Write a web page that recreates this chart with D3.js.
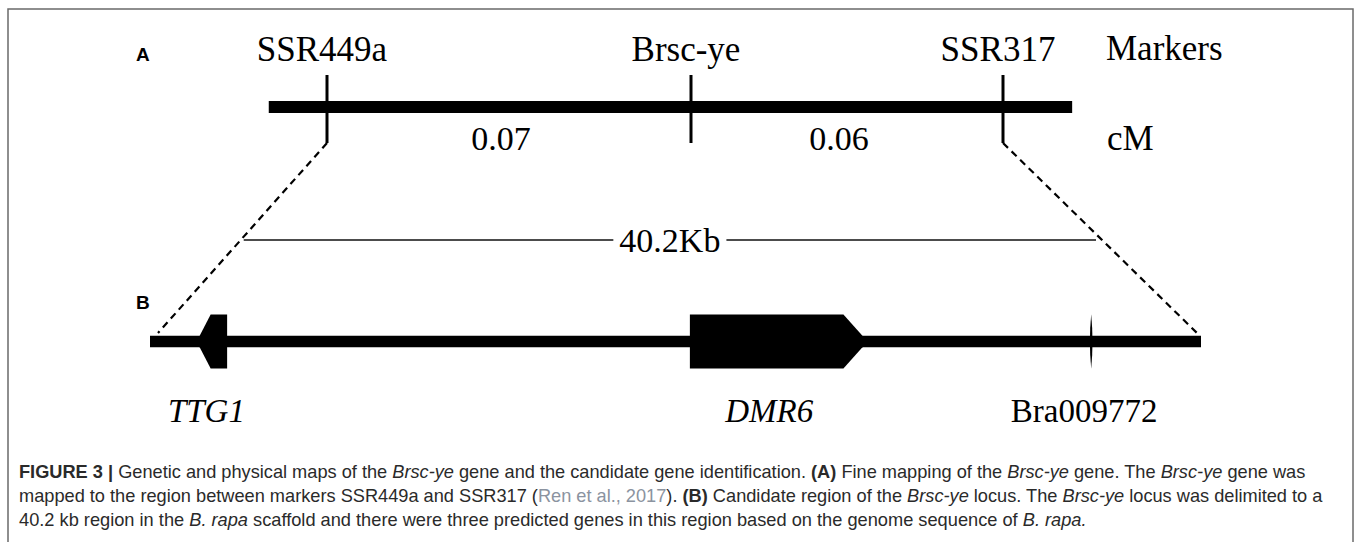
<!DOCTYPE html>
<html>
<head>
<meta charset="utf-8">
<script src="https://cdn.jsdelivr.net/npm/d3@7"></script>
<style>
  body { margin: 0; background: #fff; }
  svg { display: block; }
</style>
</head>
<body>
<svg width="1357" height="542"></svg>
<script>
// Markers of the fine map (cM, cumulative from SSR449a)
var markers = ["SSR449a", "Brsc-ye", "SSR317"];
var markerCM = [0, 0.07, 0.13];
var intervals = [0.07, 0.06];
var linkageExtent = [-0.0112, 0.1433]; // how far the black bar runs past the outer markers

// Physical region (kb)
var regionKb = 40.2;
var regionLabel = "40.2Kb";
var genes = ["TTG1", "DMR6", "Bra009772"];
var geneStart = [1.9, 20.65, 35.95];
var geneEnd = [2.95, 27.25, 36.05];
var geneStrand = [-1, 1, 0];   // -1 = reverse, 1 = forward, 0 = tiny/no direction
var geneItalic = [true, true, false];

var svg = d3.select("svg"),
    width = +svg.attr("width"),
    height = +svg.attr("height");

var serif = "'Liberation Serif', 'Times New Roman', serif";
var sans = "'Liberation Sans', Arial, sans-serif";

// frame (bottom edge is cut off in the original)
svg.append("rect")
    .attr("x", 8).attr("y", 9)
    .attr("width", 1345).attr("height", 560)
    .attr("fill", "none")
    .attr("stroke", "#6a6a6a")
    .attr("stroke-width", 1.5);

// ---------- A : genetic map ----------
var xcM = d3.scaleLinear().domain([0, 0.13]).range([327, 1003]);
var barY = 107;

svg.append("text")
    .attr("x", 136).attr("y", 61)
    .attr("font-family", sans).attr("font-weight", "bold").attr("font-size", 19)
    .text("A");

svg.append("line")
    .attr("x1", xcM(linkageExtent[0])).attr("x2", xcM(linkageExtent[1]))
    .attr("y1", barY).attr("y2", barY)
    .attr("stroke", "#000").attr("stroke-width", 12);

svg.append("g")
    .selectAll("line")
    .data(markerCM)
    .enter()
    .append("line")
    .attr("x1", function (d) { return xcM(d); })
    .attr("x2", function (d) { return xcM(d); })
    .attr("y1", 75).attr("y2", 143)
    .attr("stroke", "#000").attr("stroke-width", 3);

svg.append("g")
    .selectAll("text")
    .data(markers)
    .enter()
    .append("text")
    .attr("x", function (d, i) { return xcM(markerCM[i]) - 5; })
    .attr("y", 61)
    .attr("text-anchor", "middle")
    .attr("font-family", serif).attr("font-size", 35)
    .text(function (d) { return d; });

// distance labels between markers
svg.append("g")
    .selectAll("text")
    .data(intervals)
    .enter()
    .append("text")
    .attr("x", function (d, i) { return (xcM(markerCM[i]) + xcM(markerCM[i + 1])) / 2 - 8; })
    .attr("y", 150)
    .attr("text-anchor", "middle")
    .attr("font-family", serif).attr("font-size", 34)
    .text(function (d) { return d.toFixed(2); });

svg.append("text")
    .attr("x", 1106).attr("y", 60)
    .attr("font-family", serif).attr("font-size", 35)
    .text("Markers");
svg.append("text")
    .attr("x", 1107).attr("y", 150)
    .attr("font-family", serif).attr("font-size", 35)
    .text("cM");

// ---------- B : physical map ----------
var xKb = d3.scaleLinear().domain([0, regionKb]).range([150, 1201]);
var chrY = 341.5;
var geneH = 27; // half height of gene glyphs

svg.append("text")
    .attr("x", 136).attr("y", 309)
    .attr("font-family", sans).attr("font-weight", "bold").attr("font-size", 19)
    .text("B");

// dashed zoom lines
var zoomLines = [
    [[xcM(markerCM[0]), 143], [xKb(0) + 8, 333]],
    [[xcM(markerCM[2]), 143], [xKb(regionKb) - 4, 333]]
];
svg.append("g")
    .selectAll("line")
    .data(zoomLines)
    .enter()
    .append("line")
    .attr("x1", function (d) { return d[0][0]; })
    .attr("y1", function (d) { return d[0][1]; })
    .attr("x2", function (d) { return d[1][0]; })
    .attr("y2", function (d) { return d[1][1]; })
    .attr("stroke", "#000").attr("stroke-width", 2.2)
    .attr("stroke-dasharray", "7,5");

// 40.2Kb span line, ends where it meets the dashed lines
var spanY = 240;
function crossX(l) {
    var t = (spanY - l[0][1]) / (l[1][1] - l[0][1]);
    return l[0][0] + t * (l[1][0] - l[0][0]);
}
var spanL = crossX(zoomLines[0]) + 3,
    spanR = crossX(zoomLines[1]) - 6,
    spanMid = (spanL + spanR) / 2;

var spanText = svg.append("text")
    .attr("x", spanMid).attr("y", spanY + 12)
    .attr("text-anchor", "middle")
    .attr("font-family", serif).attr("font-size", 34)
    .text(regionLabel);
var tw = spanText.node().getComputedTextLength();
svg.append("line")
    .attr("x1", spanL).attr("x2", spanMid - tw / 2 - 6)
    .attr("y1", spanY).attr("y2", spanY)
    .attr("stroke", "#111").attr("stroke-width", 1.6);
svg.append("line")
    .attr("x1", spanMid + tw / 2 + 6).attr("x2", spanR)
    .attr("y1", spanY).attr("y2", spanY)
    .attr("stroke", "#111").attr("stroke-width", 1.6);

// chromosome segment
svg.append("line")
    .attr("x1", xKb(0)).attr("x2", xKb(regionKb))
    .attr("y1", chrY).attr("y2", chrY)
    .attr("stroke", "#000").attr("stroke-width", 11.5);

// gene glyphs
function genePath(i) {
    var a = xKb(geneStart[i]), b = xKb(geneEnd[i]);
    var top = chrY - geneH, bot = chrY + geneH;
    var halfBar = 5.8;
    if (geneStrand[i] === 0) {
        var m = (a + b) / 2, r = (b - a) / 2;
        return "M" + m + "," + top +
            "Q" + (m + r * 2) + "," + chrY + " " + m + "," + bot +
            "Q" + (m - r * 2) + "," + chrY + " " + m + "," + top + "Z";
    }
    var head = Math.min(19, (b - a) * 0.4);
    if (geneStrand[i] > 0) {
        return "M" + a + "," + top + "L" + (b - head) + "," + top +
            "L" + b + "," + (chrY - halfBar) + "L" + b + "," + (chrY + halfBar) +
            "L" + (b - head) + "," + bot + "L" + a + "," + bot + "Z";
    }
    return "M" + b + "," + top + "L" + (a + head) + "," + top +
        "L" + a + "," + (chrY - halfBar) + "L" + a + "," + (chrY + halfBar) +
        "L" + (a + head) + "," + bot + "L" + b + "," + bot + "Z";
}

svg.append("g")
    .selectAll("path")
    .data(genes)
    .enter()
    .append("path")
    .attr("d", function (d, i) { return genePath(i); })
    .attr("fill", "#000");

svg.append("g")
    .selectAll("text")
    .data(genes)
    .enter()
    .append("text")
    .attr("x", function (d, i) { return xKb((geneStart[i] + geneEnd[i]) / 2) - 7; })
    .attr("y", 422)
    .attr("text-anchor", "middle")
    .attr("font-family", serif).attr("font-size", 33)
    .attr("font-style", function (d, i) { return geneItalic[i] ? "italic" : "normal"; })
    .text(function (d) { return d; });

// ---------- caption ----------
// each line: list of [text, style]  (b = bold, i = italic, g = grey link, "" = plain)
var captionLines = [
    [["FIGURE 3 |", "b"], [" Genetic and physical maps of the ", ""], ["Brsc-ye", "i"],
     [" gene and the candidate gene identification. ", ""], ["(A)", "b"],
     [" Fine mapping of the ", ""], ["Brsc-ye", "i"], [" gene. The ", ""], ["Brsc-ye", "i"], [" gene was", ""]],
    [["mapped to the region between markers SSR449a and SSR317 (", ""], ["Ren et al., 2017", "g"],
     [")", ""], [". ", ""], ["(B)", "b"], [" Candidate region of the ", ""], ["Brsc-ye", "i"],
     [" locus. The ", ""], ["Brsc-ye", "i"], [" locus was delimited to a", ""]],
    [["40.2 kb region in the ", ""], ["B. rapa", "i"],
     [" scaffold and there were three predicted genes in this region based on the genome sequence of ", ""],
     ["B. rapa.", "i"]]
];
var captionWidths = [1287, 1305, 1068];
var captionY = [478, 502, 526];

captionLines.forEach(function (parts, li) {
    var t = svg.append("text")
        .attr("x", 0).attr("y", 0)
        .attr("font-family", sans).attr("font-size", 18)
        .attr("fill", "#2a2a2a")
        .style("white-space", "pre");
    parts.forEach(function (p) {
        t.append("tspan")
            .attr("font-weight", p[1] === "b" ? "bold" : null)
            .attr("font-style", p[1] === "i" ? "italic" : null)
            .attr("fill", p[1] === "g" ? "#8b93a0" : null)
            .text(p[0]);
    });
    var w = t.node().getBBox().width;
    t.attr("transform", "translate(19," + captionY[li] + ") scale(" + (captionWidths[li] / w) + ",1)");
});
</script>
</body>
</html>
